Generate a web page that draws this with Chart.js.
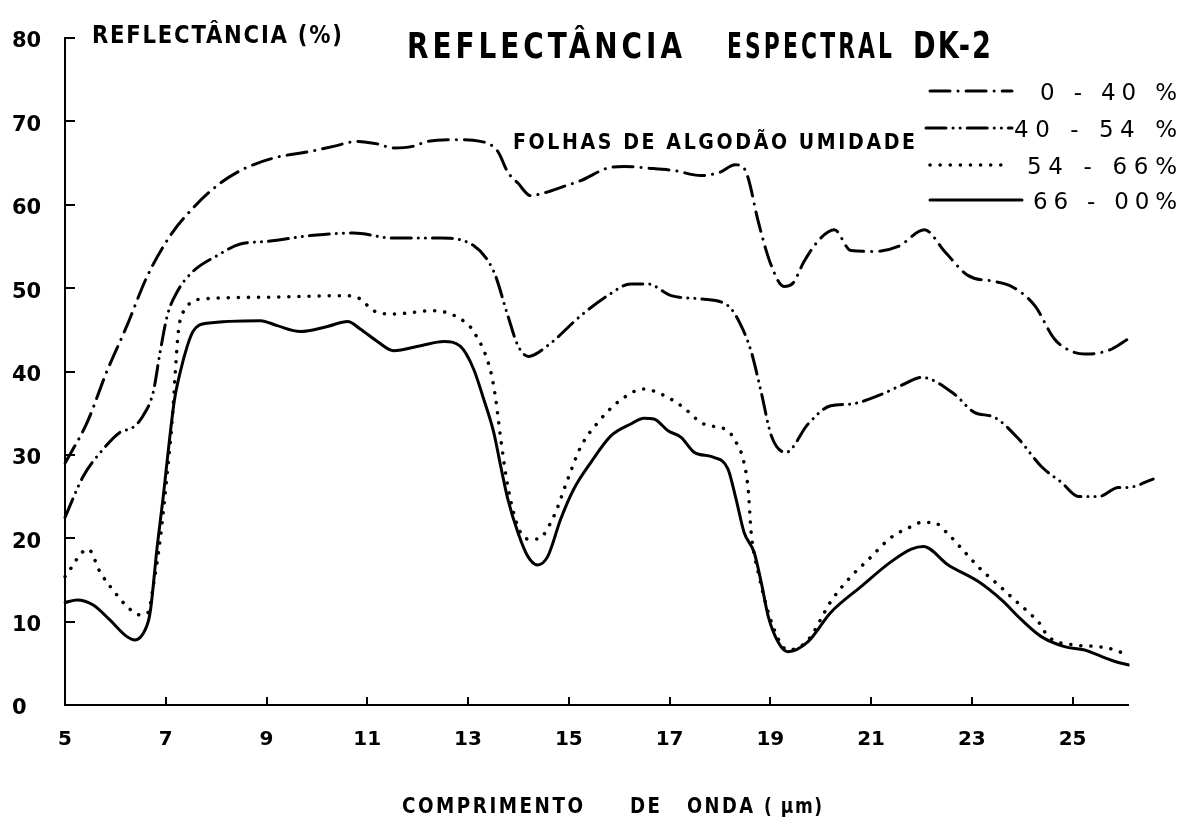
<!DOCTYPE html>
<html>
<head>
<meta charset="utf-8">
<script src="https://cdn.jsdelivr.net/npm/chart.js@4.4.0/dist/chart.umd.min.js"></script>
<style>
html,body{margin:0;padding:0;background:#ffffff;}
#wrap{width:1190px;height:819px;position:relative;}
</style>
</head>
<body>
<div id="wrap"><canvas id="c" width="1190" height="819"></canvas></div>
<script>
// ---------- DATA ----------
const seriesLabels = ['0 - 40 %', '40 - 54 %', '54 - 66%', '66 - 00%'];

// 0 - 40 % (dash-dot)
const aX = [5.0, 5.44, 5.83, 6.23, 6.63, 7.09, 7.54, 8.02, 8.48, 9.14, 9.87, 10.33, 10.8, 11.2, 11.52, 11.9, 12.2, 12.71, 13.25, 13.59, 13.79, 13.99, 14.24, 14.5, 14.9, 15.24, 15.77, 16.1, 16.57, 17.09, 17.62, 18.0, 18.3, 18.45, 18.56, 18.76, 19.02, 19.27, 19.45, 19.67, 20.0, 20.27, 20.6, 21.06, 21.54, 22.06, 22.46, 22.93, 23.45, 23.79, 24.25, 24.64, 24.95, 25.24, 25.5, 25.78, 26.1];
const aY = [29.0, 33.9, 40.0, 45.5, 51.4, 56.3, 59.6, 62.3, 64.1, 65.6, 66.4, 67.0, 67.6, 67.3, 66.8, 67.0, 67.6, 67.8, 67.6, 66.4, 63.9, 62.6, 61.1, 61.4, 62.2, 62.9, 64.4, 64.6, 64.4, 64.1, 63.5, 63.9, 64.8, 64.6, 63.2, 58.0, 52.7, 50.2, 50.6, 53.2, 56.0, 57.0, 54.5, 54.4, 55.0, 57.0, 54.4, 51.5, 50.8, 50.2, 47.9, 43.9, 42.5, 42.1, 42.2, 42.7, 43.9];

// 40 - 54 % (dash-dot-dot)
const bX = [5.0, 5.36, 5.76, 6.09, 6.35, 6.55, 6.75, 6.89, 7.03, 7.23, 7.54, 8.02, 8.48, 9.02, 9.87, 10.73, 11.52, 12.46, 13.11, 13.51, 13.79, 13.99, 14.2, 14.58, 15.24, 15.77, 16.23, 16.57, 17.03, 17.62, 18.16, 18.42, 18.62, 18.82, 19.02, 19.31, 19.75, 20.2, 20.6, 21.14, 21.66, 22.0, 22.65, 23.05, 23.45, 23.93, 24.38, 24.78, 25.12, 25.52, 25.91, 26.1, 26.6];
const bY = [22.5, 27.4, 30.7, 32.7, 33.3, 34.7, 37.5, 42.4, 46.7, 49.6, 52.0, 53.9, 55.3, 55.6, 56.3, 56.6, 56.0, 56.0, 55.1, 52.0, 46.7, 43.1, 41.8, 43.1, 46.7, 49.1, 50.5, 50.5, 49.1, 48.7, 47.9, 45.5, 42.4, 37.5, 32.3, 30.3, 33.7, 35.9, 36.1, 37.1, 38.5, 39.3, 37.3, 35.1, 34.5, 31.9, 28.6, 26.7, 25.0, 25.0, 26.1, 26.1, 27.1];

// 54 - 66 % (dotted)
const cX = [5.0, 5.46, 5.7, 5.99, 6.25, 6.49, 6.65, 6.75, 6.89, 7.03, 7.13, 7.19, 7.25, 7.39, 7.74, 8.88, 10.53, 10.86, 11.12, 11.52, 12.32, 12.85, 13.11, 13.45, 13.55, 13.65, 13.79, 13.99, 14.19, 14.38, 14.7, 14.98, 15.24, 15.58, 15.97, 16.49, 16.83, 17.23, 17.68, 18.16, 18.28, 18.46, 18.56, 18.62, 18.76, 19.08, 19.35, 19.75, 20.2, 20.6, 20.94, 21.4, 21.8, 22.0, 22.24, 22.53, 22.85, 23.19, 23.53, 23.85, 24.13, 24.33, 24.52, 25.04, 25.52, 25.84, 26.07];
const cY = [15.4, 18.7, 15.9, 13.5, 11.7, 10.8, 11.1, 14.2, 19.9, 27.9, 34.3, 40.0, 44.8, 47.5, 48.7, 48.9, 49.1, 48.7, 47.3, 46.9, 47.3, 46.3, 44.8, 40.0, 36.7, 31.9, 26.2, 21.4, 19.9, 19.9, 22.6, 27.1, 31.0, 33.9, 36.3, 37.9, 37.3, 35.9, 33.7, 32.9, 31.9, 29.5, 25.9, 20.7, 15.9, 9.0, 6.6, 7.8, 12.4, 15.4, 17.4, 20.1, 21.4, 21.9, 21.9, 20.5, 18.4, 16.2, 14.4, 12.6, 11.1, 9.9, 8.2, 7.2, 7.0, 6.6, 6.0];

// 66 - 100 % (solid)
const dX = [5.0, 5.24, 5.56, 5.89, 6.23, 6.39, 6.59, 6.69, 6.83, 6.95, 7.05, 7.17, 7.29, 7.43, 7.54, 7.82, 8.88, 9.21, 9.67, 10.21, 10.61, 10.86, 11.2, 11.52, 12.06, 12.52, 12.85, 13.11, 13.31, 13.51, 13.65, 13.79, 13.99, 14.19, 14.38, 14.58, 14.84, 15.1, 15.44, 15.84, 16.23, 16.49, 16.69, 16.97, 17.23, 17.49, 17.88, 18.16, 18.32, 18.48, 18.68, 18.82, 18.96, 19.16, 19.35, 19.75, 20.2, 20.8, 21.4, 21.8, 22.04, 22.53, 23.13, 23.59, 23.99, 24.38, 24.84, 25.24, 25.58, 25.91, 26.13];
const dY = [12.3, 12.6, 12.0, 10.2, 8.2, 7.8, 9.0, 11.1, 19.0, 25.0, 30.5, 36.5, 40.0, 43.1, 44.8, 45.8, 46.1, 45.5, 44.8, 45.4, 46.0, 45.1, 43.6, 42.5, 43.1, 43.6, 43.0, 40.3, 36.7, 32.7, 28.6, 24.7, 20.7, 17.8, 16.8, 17.8, 22.3, 25.9, 29.1, 32.3, 33.7, 34.4, 34.3, 32.9, 32.1, 30.3, 29.7, 28.3, 24.7, 20.7, 18.3, 14.7, 10.6, 7.5, 6.4, 7.6, 11.1, 14.2, 17.2, 18.7, 19.0, 16.8, 14.8, 12.6, 10.2, 8.2, 7.0, 6.6, 5.8, 5.1, 4.8];

const xMin = 5, xMax = 26.1;
const yMin = 0, yMax = 80;
const xTickValues = [5, 7, 9, 11, 13, 15, 17, 19, 21, 23, 25];
const yTickValues = [0, 10, 20, 30, 40, 50, 60, 70, 80];

const chartTitle = ['REFLECTÂNCIA', 'ESPECTRAL', 'DK-2'];
const yAxisTitle = 'REFLECTÂNCIA (%)';
const subTitle = 'FOLHAS DE ALGODÃO UMIDADE';
const xAxisTitle = ['COMPRIMENTO', 'DE', 'ONDA', '( µm)'];

// ---------- HELPERS ----------
const FONT = '"DejaVu Sans", "Liberation Sans", Arial, sans-serif';
function pts(xs, ys) { return xs.map((x, i) => ({ x: x, y: ys[i] })); }

function fitText(ctx, text, x, y, width, font, minSp) {
  ctx.save();
  ctx.font = font;
  const hasLS = ('letterSpacing' in ctx);
  if (hasLS) ctx.letterSpacing = '0px';
  const chars = Array.from(text);
  const w = ctx.measureText(text).width;
  const n = chars.length;
  let sp = n > 1 ? (width - w) / (n - 1) : 0;
  let sx = 1;
  if (sp < minSp) { sp = minSp; sx = width / (w + minSp * (n - 1)); }
  ctx.translate(x, y);
  ctx.scale(sx, 1);
  ctx.textAlign = 'left';
  ctx.textBaseline = 'alphabetic';
  if (hasLS) {
    ctx.letterSpacing = sp + 'px';
    ctx.fillText(text, 0, 0);
  } else {
    let cx = 0;
    for (const ch of chars) { ctx.fillText(ch, cx, 0); cx += ctx.measureText(ch).width + sp; }
  }
  ctx.restore();
}

const decor = {
  id: 'decor',
  afterDraw(chart) {
    const ctx = chart.ctx;
    const a = chart.chartArea;
    const xs = chart.scales.x, ys = chart.scales.y;
    ctx.save();
    ctx.strokeStyle = '#000';
    ctx.fillStyle = '#000';
    ctx.lineWidth = 2;
    ctx.setLineDash([]);
    // inward tick marks
    yTickValues.forEach(v => {
      if (v === yTickValues[0]) return;
      const py = Math.round(ys.getPixelForValue(v));
      ctx.beginPath(); ctx.moveTo(a.left, py); ctx.lineTo(a.left + 10, py); ctx.stroke();
    });
    xTickValues.forEach(v => {
      if (v === xTickValues[0]) return;
      const px = Math.round(xs.getPixelForValue(v));
      ctx.beginPath(); ctx.moveTo(px, a.bottom); ctx.lineTo(px, a.bottom - 8); ctx.stroke();
    });

    // legend (top right)
    const rowsY = [91, 128, 165, 200];
    const lineX0 = [930, 926, 930, 930];
    const lineX1 = [1012, 1012, 1008, 1022];
    const textX0 = [1040, 1014, 1027, 1033];
    const textX1 = 1177;
    chart.data.datasets.forEach((ds, i) => {
      ctx.save();
      ctx.setLineDash(ds.borderDash || []);
      ctx.lineWidth = ds.borderWidth;
      ctx.lineCap = ds.borderCapStyle || 'butt';
      ctx.beginPath();
      ctx.moveTo(lineX0[i], rowsY[i]); ctx.lineTo(lineX1[i], rowsY[i]);
      ctx.stroke();
      ctx.restore();
      fitText(ctx, ds.label, textX0[i], rowsY[i] + 9, textX1 - textX0[i], '23px ' + FONT, 2);
    });

    // titles
    fitText(ctx, chartTitle[0], 407, 58, 275, 'bold 35px ' + FONT, 5);
    fitText(ctx, chartTitle[1], 727, 58, 165, 'bold 35px ' + FONT, 5);
    fitText(ctx, chartTitle[2], 913, 58, 78, 'bold 37px ' + FONT, 3);
    fitText(ctx, yAxisTitle, 92, 43, 250, 'bold 24px ' + FONT, 2);
    fitText(ctx, subTitle, 513, 149, 402, 'bold 22px ' + FONT, 3);
    fitText(ctx, xAxisTitle[0], 402, 813, 181, 'bold 22px ' + FONT, 3);
    fitText(ctx, xAxisTitle[1], 630, 813, 30, 'bold 22px ' + FONT, 3);
    fitText(ctx, xAxisTitle[2], 687, 813, 66, 'bold 22px ' + FONT, 3);
    fitText(ctx, xAxisTitle[3], 764, 813, 58, 'bold 22px ' + FONT, 2);
    ctx.restore();
  }
};

const common = {
  borderColor: '#000',
  backgroundColor: '#000',
  pointRadius: 0,
  pointHoverRadius: 0,
  fill: false,
  cubicInterpolationMode: 'monotone',
  borderJoinStyle: 'round'
};

new Chart(document.getElementById('c'), {
  type: 'line',
  data: {
    datasets: [
      Object.assign({}, common, { label: seriesLabels[0], data: pts(aX, aY), borderWidth: 3, borderDash: [20, 8, 0.1, 8], borderCapStyle: 'round' }),
      Object.assign({}, common, { label: seriesLabels[1], data: pts(bX, bY), borderWidth: 3, borderDash: [20, 7, 0.1, 7, 0.1, 7], borderCapStyle: 'round', clip: false }),
      Object.assign({}, common, { label: seriesLabels[2], data: pts(cX, cY), borderWidth: 3.5, borderDash: [0.1, 10], borderCapStyle: 'round' }),
      Object.assign({}, common, { label: seriesLabels[3], data: pts(dX, dY), borderWidth: 3, borderDash: [], borderCapStyle: 'round' })
    ]
  },
  options: {
    responsive: false,
    animation: false,
    devicePixelRatio: 1,
    events: [],
    layout: { padding: { left: 12, top: 38, right: 62, bottom: 0 } },
    plugins: { legend: { display: false }, tooltip: { enabled: false }, title: { display: false } },
    scales: {
      x: {
        type: 'linear',
        bounds: 'data',
        grid: { display: false, drawTicks: false },
        border: { display: true, color: '#000', width: 2 },
        afterDataLimits: (s) => { s.min = xMin; s.max = xMax; },
        afterBuildTicks: (s) => { s.ticks = xTickValues.map(v => ({ value: v })); },
        afterFit: (s) => { s.height = 114; },
        ticks: { color: '#000', padding: 23, maxRotation: 0, autoSkip: false, font: { family: FONT, size: 20, weight: 'bold' } }
      },
      y: {
        type: 'linear', min: yMin, max: yMax,
        grid: { display: false, drawTicks: false },
        border: { display: true, color: '#000', width: 2 },
        afterBuildTicks: (s) => { s.ticks = yTickValues.map(v => ({ value: v })); },
        afterFit: (s) => { s.width = 53; },
        ticks: { color: '#000', crossAlign: 'far', padding: 0, labelOffset: 4, autoSkip: false, font: { family: FONT, size: 21, weight: 'bold' } }
      }
    }
  },
  plugins: [decor]
});
</script>
</body>
</html>
